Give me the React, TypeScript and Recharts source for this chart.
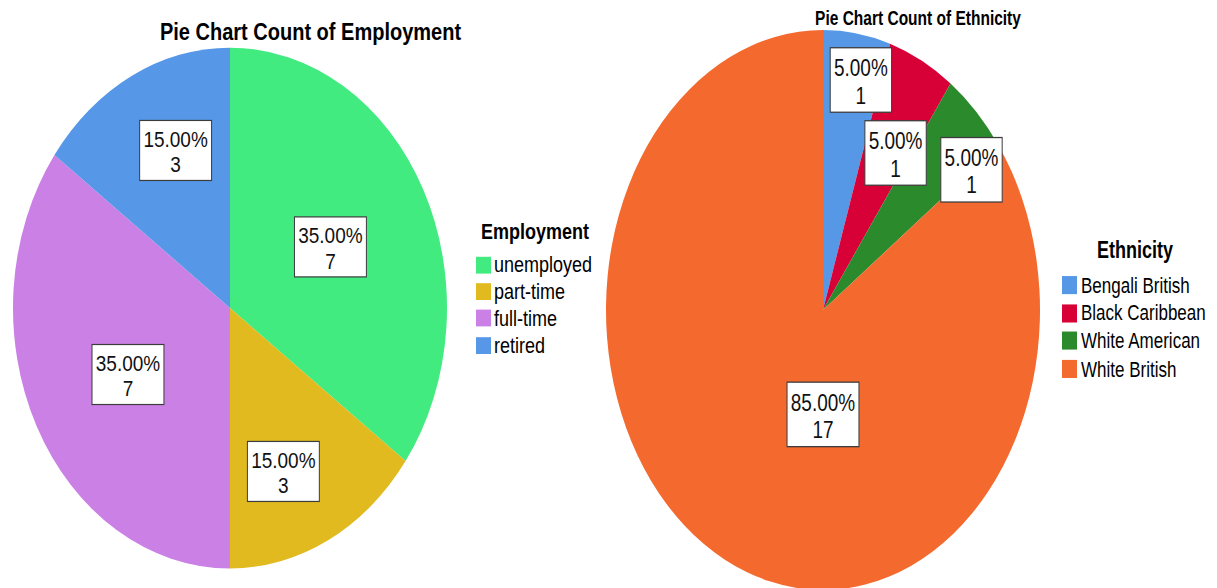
import React from "react";
import { PieChart, Pie, Cell, Legend } from "recharts";

const EMPLOYMENT_NAMES = ["unemployed", "part-time", "full-time", "retired"];
const EMPLOYMENT_COUNTS = [7, 3, 7, 3];
const EMPLOYMENT_COLORS = ["#42eb7f", "#e1ba1f", "#ca80e4", "#5797e7"];

const ETHNICITY_NAMES = ["Bengali British", "Black Caribbean", "White American", "White British"];
const ETHNICITY_COUNTS = [1, 1, 1, 17];
const ETHNICITY_COLORS = ["#5698e6", "#d70037", "#2b8a2c", "#f3692e"];

const FONT = '"Liberation Sans", Arial, Helvetica, sans-serif';
const RAD = Math.PI / 180;
const LABEL_FONT = 19;

// where SPSS put the value boxes: [fraction of radius, clock angle from 12 o'clock]
const EMPLOYMENT_LABEL_POS: [number, number][] = [
  [0.519, 63.1],
  [0.674, 158.6],
  [0.535, 241.5],
  [0.655, 337.5],
];
const ETHNICITY_LABEL_POS: [number, number][] = [
  [0.84, 12],
  [0.653, 30.8],
  [0.848, 53.8],
  [0.373, 180],
];

const CHAR_W: Record<string, number> = { ".": 0.278, "%": 0.889 };
const textWidth = (s: string, size: number) =>
  s.split("").reduce((acc, c) => acc + (CHAR_W[c] ?? 0.556), 0) * size;

const makeLabel = (labelPos: [number, number][]) => (p: any) => {
  const { cx, cy, outerRadius, percent, value, index } = p;
  const r = labelPos[index][0] * outerRadius;
  const ang = 90 - labelPos[index][1];
  const x = cx + r * Math.cos(-ang * RAD);
  const y = cy + r * Math.sin(-ang * RAD);
  const pct = `${(percent * 100).toFixed(2)}%`;
  const w = textWidth(pct, LABEL_FONT) + 7.5;
  const h = 50;
  return (
    <g key={`lbl-${index}`}>
      <rect x={x - w / 2} y={y - h / 2} width={w} height={h} fill="#fff" stroke="#3c3c3c" strokeWidth={1} />
      <text textAnchor="middle" fontSize={LABEL_FONT} fontFamily={FONT} fill="#111">
        <tspan x={x} y={y - 3}>
          {pct}
        </tspan>
        <tspan x={x} y={y + 18.3}>
          {value}
        </tspan>
      </text>
    </g>
  );
};

interface PanelProps {
  left: number;
  width: number;
  stretch: number;
  title: string;
  titleX: number;
  titleY: number;
  titleSize: number;
  names: string[];
  counts: number[];
  colors: string[];
  cx: number;
  cy: number;
  radius: number;
  legendTitle: string;
  legendLeft: number;
  legendTop: number;
  legendWidth: number;
  legendFont: number;
  rowHeight: number;
  swatchGap: number;
  labelPos: [number, number][];
}

function PiePanel(props: PanelProps) {
  const h = 588 / props.stretch;
  const data = props.names.map((name, i) => ({ name, value: props.counts[i] }));
  return (
    <div
      style={{
        position: "absolute",
        left: props.left,
        top: 0,
        width: props.width,
        height: h,
        transform: `scaleY(${props.stretch})`,
        transformOrigin: "0 0",
        fontFamily: FONT,
      }}
    >
      <div
        style={{
          position: "absolute",
          left: props.titleX,
          top: props.titleY - 12,
          height: 24,
          lineHeight: "24px",
          transform: "translateX(-50%)",
          whiteSpace: "nowrap",
          fontSize: props.titleSize,
          fontWeight: "bold",
          color: "#000",
        }}
      >
        {props.title}
      </div>
      <PieChart width={props.width} height={h} margin={{ top: 0, right: 0, bottom: 0, left: 0 }}>
        <Pie
          data={data}
          dataKey="value"
          nameKey="name"
          cx={props.cx}
          cy={props.cy}
          outerRadius={props.radius}
          startAngle={90}
          endAngle={-270}
          stroke="none"
          labelLine={false}
          label={makeLabel(props.labelPos)}
          isAnimationActive={false}
        >
          {data.map((d, i) => (
            <Cell key={d.name} fill={props.colors[i]} />
          ))}
        </Pie>
        <Legend
          wrapperStyle={{
            position: "absolute",
            left: props.legendLeft,
            top: props.legendTop,
            width: props.legendWidth,
          }}
          content={() => (
            <div style={{ fontFamily: FONT, color: "#000" }}>
              <div
                style={{
                  textAlign: "center",
                  fontWeight: "bold",
                  fontSize: 18,
                  height: 28,
                  lineHeight: "22px",
                }}
              >
                {props.legendTitle}
              </div>
              {props.names.map((n, i) => (
                <div
                  key={n}
                  style={{
                    height: props.rowHeight,
                    lineHeight: `${props.rowHeight}px`,
                    fontSize: props.legendFont,
                    whiteSpace: "nowrap",
                  }}
                >
                  <span
                    style={{
                      display: "inline-block",
                      width: 15,
                      height: 14,
                      background: props.colors[i],
                      verticalAlign: "middle",
                      marginRight: props.swatchGap,
                      marginTop: -3,
                    }}
                  />
                  {n}
                </div>
              ))}
            </div>
          )}
        />
      </PieChart>
    </div>
  );
}

export default function App() {
  return (
    <div
      style={{
        position: "relative",
        width: 1217,
        height: 588,
        margin: "-8px 0 0 -8px",
        overflow: "hidden",
        background: "#fff",
      }}
    >
      <PiePanel
        left={0}
        width={600}
        stretch={1.2}
        title="Pie Chart Count of Employment"
        titleX={310.5}
        titleY={25.8}
        titleSize={20}
        names={EMPLOYMENT_NAMES}
        counts={EMPLOYMENT_COUNTS}
        colors={EMPLOYMENT_COLORS}
        cx={230}
        cy={256.7}
        radius={217}
        legendTitle="Employment"
        legendLeft={476}
        legendTop={182.3}
        legendWidth={118}
        legendFont={18}
        rowHeight={22.2}
        swatchGap={3}
        labelPos={EMPLOYMENT_LABEL_POS}
      />
      <PiePanel
        left={600}
        width={617}
        stretch={1.29}
        title="Pie Chart Count of Ethnicity"
        titleX={318}
        titleY={14}
        titleSize={15.5}
        names={ETHNICITY_NAMES}
        counts={ETHNICITY_COUNTS}
        colors={ETHNICITY_COLORS}
        cx={223}
        cy={240.3}
        radius={217}
        legendTitle="Ethnicity"
        legendLeft={462}
        legendTop={182.8}
        legendWidth={146}
        legendFont={17}
        rowHeight={21.7}
        swatchGap={4}
        labelPos={ETHNICITY_LABEL_POS}
      />
    </div>
  );
}
